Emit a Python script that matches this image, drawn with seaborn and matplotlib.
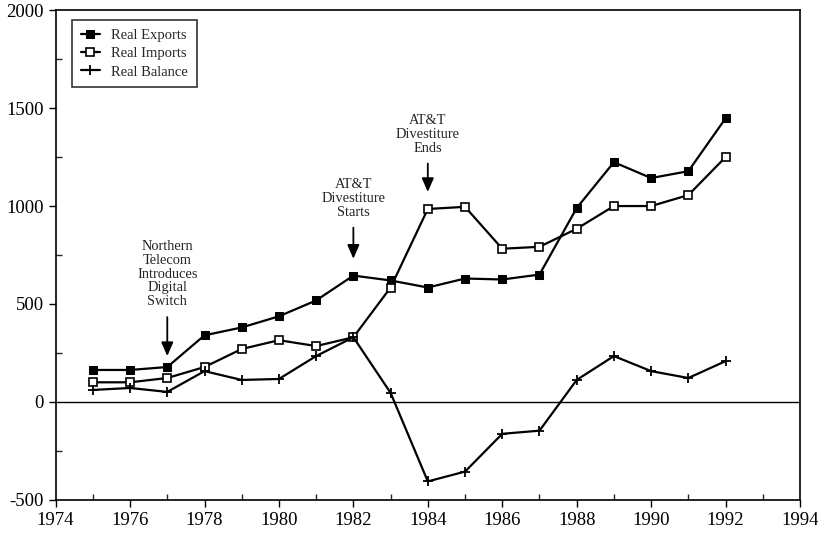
import numpy as np
import pandas as pd
import matplotlib
matplotlib.use('Agg')
import matplotlib.pyplot as plt
import seaborn as sns
from matplotlib.ticker import MultipleLocator

# data
years = list(range(1975, 1993))
exports = [163, 163, 178, 340, 380, 437, 518, 645, 620, 584, 630, 625, 650, 990, 1224, 1143, 1178, 1448]
imports = [100, 100, 122, 178, 270, 315, 285, 330, 584, 985, 996, 782, 792, 884, 1000, 1000, 1056, 1250]
balance = [61, 71, 51, 157, 112, 117, 234, 330, 46, -406, -356, -163, -147, 112, 234, 157, 122, 208]

df = pd.DataFrame({'Year': years, 'Real Exports': exports,
                   'Real Imports': imports, 'Real Balance': balance})

sns.set_style('ticks')
plt.rcParams['font.family'] = ['Liberation Serif', 'DejaVu Serif']
plt.rcParams['axes.unicode_minus'] = False

fig = plt.figure(figsize=(8.18, 5.38), dpi=100)
ax = fig.add_axes([0.068, 0.071, 0.91, 0.91])

ax.axhline(0, color='black', lw=1.0, zorder=1)

sns.lineplot(data=df, x='Year', y='Real Exports', ax=ax, color='black', lw=1.6,
             marker='s', markersize=6, markerfacecolor='black', markeredgecolor='black',
             label='Real Exports')
sns.lineplot(data=df, x='Year', y='Real Imports', ax=ax, color='black', lw=1.6,
             marker='s', markersize=6, markerfacecolor='white', markeredgecolor='black',
             markeredgewidth=1.2, label='Real Imports')
sns.lineplot(data=df, x='Year', y='Real Balance', ax=ax, color='black', lw=1.6,
             marker='+', markersize=7, markeredgewidth=1.3, markeredgecolor='black',
             label='Real Balance')

ax.set_xlim(1974, 1994)
ax.set_ylim(-500, 2000)
ax.xaxis.set_major_locator(MultipleLocator(2))
ax.xaxis.set_minor_locator(MultipleLocator(1))
ax.yaxis.set_major_locator(MultipleLocator(500))
ax.yaxis.set_minor_locator(MultipleLocator(250))
ax.tick_params(which='major', direction='out', length=5, width=1, labelsize=13.5, colors='black')
ax.tick_params(which='minor', direction='in', length=4, width=1)
ax.set_xlabel('')
ax.set_ylabel('')
for s in ax.spines.values():
    s.set_linewidth(1.2)
    s.set_color('black')

# event annotations
arrow = dict(arrowstyle='-|>,head_length=0.8,head_width=0.35', color='black', lw=1.3,
             shrinkA=4, shrinkB=0)
txt = dict(ha='center', va='bottom', fontsize=10.4, linespacing=1.08, arrowprops=arrow)
ax.annotate('Northern\nTelecom\nIntroduces\nDigital\nSwitch', xy=(1977, 234), xytext=(1977, 478), **txt)
ax.annotate('AT&T\nDivestiture\nStarts', xy=(1982, 731), xytext=(1982, 935), **txt)
ax.annotate('AT&T\nDivestiture\nEnds', xy=(1984, 1072), xytext=(1984, 1262), **txt)

leg = ax.legend(loc='upper left', bbox_to_anchor=(0.012, 0.995), fontsize=10.5,
                frameon=True, fancybox=False, edgecolor='black', handlelength=1.3,
                borderpad=0.6, labelspacing=0.35)
leg.get_frame().set_linewidth(1.2)

plt.savefig('out.png', dpi=100)
